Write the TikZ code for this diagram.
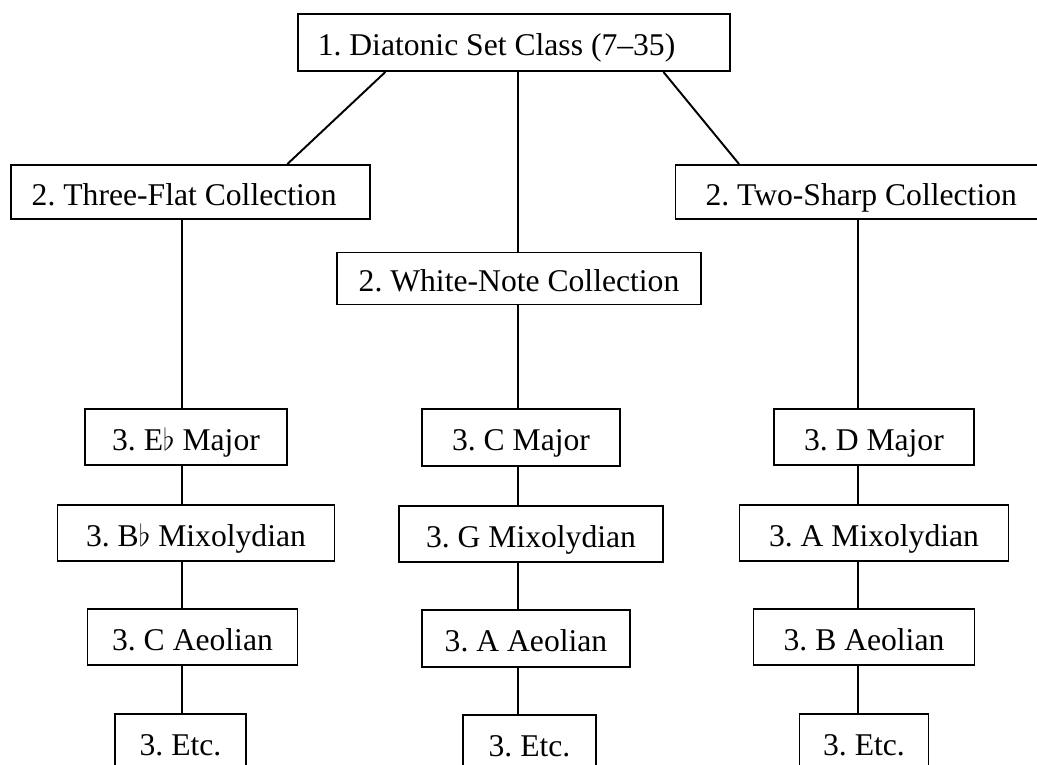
\documentclass[tikz,border=0pt]{standalone}
\usepackage{fontspec}
\setmainfont{Liberation Serif}
\usetikzlibrary{calc}

\begin{document}
\frenchspacing
\begin{tikzpicture}[line width=1.1pt, every node/.style={font=\fontsize{18}{21.6}\selectfont}, stage/.style={draw, minimum height=1.13cm, inner sep=0pt, text height=16pt, text depth=1pt}]

\useasboundingbox(0,0) rectangle (20.74,-15.3);
\clip(0,0) rectangle (20.74,-15.3);

\node[stage, text width=7.85cm, inner xsep=0.4cm, align=flush left, minimum height=1.14cm](dsc) at (10.28,-0.85){1. Diatonic Set Class (7--35)};

\node[stage, text width=6.35cm, inner xsep=0.42cm, align=flush left, minimum height=1.08cm](flat) at (3.81,-3.84){2. Three-Flat Collection};
\node[stage, text width=7cm, inner xsep=0.6cm, align=flush left, minimum height=1.08cm](sharp) at (17.61,-3.84){2. Two-Sharp Collection};
\node[stage, minimum width=7.29cm, minimum height=1.04cm](white) at (10.38,-5.57){2. White-Note Collection};

\node[stage, minimum width=4.03cm](ebmaj) at (3.72,-8.74){3. E$\flat$ Major};
\node[stage, minimum width=5.54cm](bbmix) at (3.92,-10.66){3. B$\flat$ Mixolydian};
\node[stage, minimum width=4.2cm](caeol) at (3.85,-12.74){3. C Aeolian};
\node[stage, minimum width=2.61cm](letc) at (3.61,-14.84){3. Etc.};

\node[stage, minimum width=3.95cm](cmaj) at (10.42,-8.75){3. C Major};
\node[stage, minimum width=5.27cm](gmix) at (10.62,-10.68){3. G Mixolydian};
\node[stage, minimum width=4.15cm](aaeol) at (10.52,-12.77){3. A Aeolian};
\node[stage, minimum width=2.65cm](metc) at (10.59,-14.86){3. Etc.};

\node[stage, minimum width=4.0cm](dmaj) at (17.48,-8.74){3. D Major};
\node[stage, minimum width=5.38cm](amix) at (17.48,-10.66){3. A Mixolydian};
\node[stage, minimum width=4.42cm](baeol) at (17.28,-12.74){3. B Aeolian};
\node[stage, minimum width=2.58cm](retc) at (17.28,-14.84){3. Etc.};

\coordinate(lcol) at (3.64,0);
\coordinate(mcol) at (10.36,0);
\coordinate(rcol) at (17.16,0);

\draw($(dsc.south west)!0.204!(dsc.south east)$)--($(flat.north west)!0.768!(flat.north east)$);
\draw(dsc.south -| mcol)--(white.north -| mcol);
\draw($(dsc.south west)!0.844!(dsc.south east)$)--($(sharp.north west)+(1.29,0)$);

\draw(flat.south -| lcol)--(ebmaj.north -| lcol);
\draw(ebmaj.south -| lcol)--(bbmix.north -| lcol);
\draw(bbmix.south -| lcol)--(caeol.north -| lcol);
\draw(caeol.south -| lcol)--(letc.north -| lcol);

\draw(white.south -| mcol)--(cmaj.north -| mcol);
\draw(cmaj.south -| mcol)--(gmix.north -| mcol);
\draw(gmix.south -| mcol)--(aaeol.north -| mcol);
\draw(aaeol.south -| mcol)--(metc.north -| mcol);

\draw(sharp.south -| rcol)--(dmaj.north -| rcol);
\draw(dmaj.south -| rcol)--(amix.north -| rcol);
\draw(amix.south -| rcol)--(baeol.north -| rcol);
\draw(baeol.south -| rcol)--(retc.north -| rcol);

\end{tikzpicture}
\end{document}
